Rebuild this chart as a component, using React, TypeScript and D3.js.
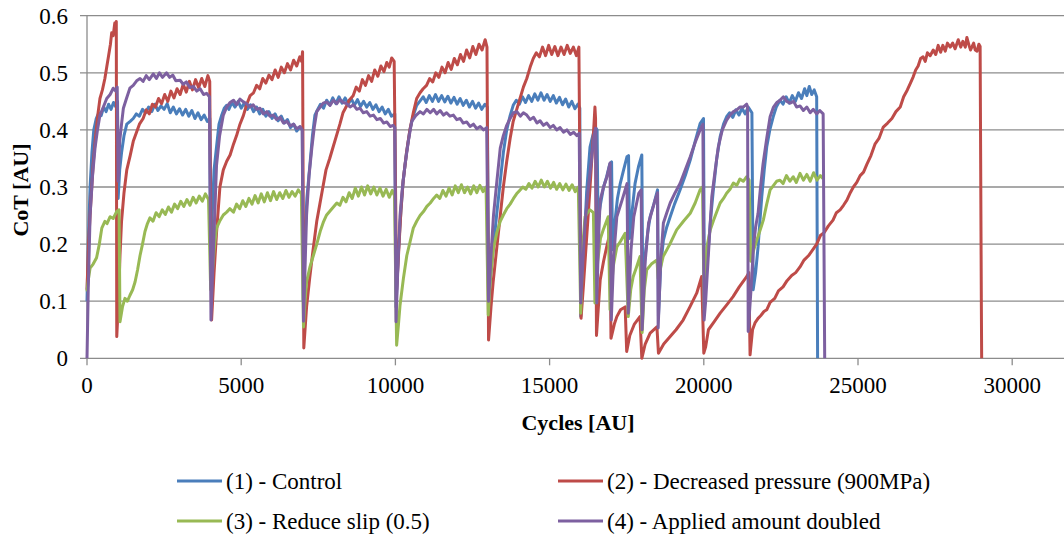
import React from 'react';
import * as d3 from 'd3';

type P = [number, number];

const xTicks = [0, 5000, 10000, 15000, 20000, 25000, 30000];
const yTicks = [0, 0.1, 0.2, 0.3, 0.4, 0.5, 0.6];
const xAxisTitle = 'Cycles [AU]';
const yAxisTitle = 'CoT [AU]';
const seriesNames = [
  '(1) - Control',
  '(2) - Decreased pressure (900MPa)',
  '(3) - Reduce slip (0.5)',
  '(4) - Applied amount doubled',
];

const control: P[] = [
  [0,.10],[40,.2],[100,.3],[160,.36],[220,.4],[300,.42],[380,.43],[460,.425],[540,.44],[620,.432],[700,.445],[780,.436],[860,.448],[940,.44],[990,.45],
  [1010,.28],[1060,.33],[1120,.36],[1200,.39],[1290,.41],[1400,.415],[1500,.42],[1600,.428],[1700,.424],[1800,.436],[1900,.43],[2000,.44],[2100,.432],[2200,.445],[2300,.434],[2400,.442],[2500,.436],[2600,.446],[2700,.43],[2800,.44],[2900,.428],[3000,.437],[3100,.426],[3200,.436],[3300,.424],[3400,.434],[3500,.42],[3600,.43],[3700,.418],[3800,.426],[3900,.415],[3980,.42],
  [4010,.15],[4060,.25],[4120,.33],[4200,.37],[4280,.41],[4370,.426],[4450,.438],[4530,.443],[4600,.436],[4700,.448],[4800,.44],[4900,.45],[5000,.438],[5100,.447],[5200,.436],[5300,.444],[5400,.432],[5500,.44],[5600,.428],[5700,.436],[5800,.424],[5900,.432],[6000,.42],[6100,.428],[6200,.416],[6300,.424],[6400,.412],[6500,.418],[6600,.404],[6700,.41],[6800,.398],[6900,.405],[6980,.40],
  [7010,.10],[7060,.2],[7130,.28],[7230,.34],[7310,.39],[7390,.426],[7480,.436],[7570,.445],[7670,.438],[7770,.452],[7870,.444],[7970,.456],[8070,.446],[8170,.458],[8270,.447],[8370,.456],[8470,.445],[8570,.455],[8670,.443],[8770,.453],[8870,.441],[8970,.45],[9070,.44],[9170,.448],[9270,.436],[9370,.444],[9470,.432],[9570,.44],[9670,.428],[9770,.436],[9870,.424],[9980,.428],
  [10020,.09],[10100,.19],[10170,.25],[10250,.31],[10360,.36],[10470,.40],[10580,.425],[10690,.443],[10790,.45],[10900,.458],[11000,.448],[11100,.46],[11200,.45],[11300,.462],[11400,.45],[11500,.46],[11600,.449],[11700,.459],[11800,.447],[11900,.457],[12000,.445],[12100,.455],[12200,.443],[12300,.452],[12400,.44],[12500,.45],[12600,.438],[12700,.447],[12800,.436],[12900,.445],[12980,.44],
  [13030,.10],[13100,.15],[13170,.19],[13280,.25],[13400,.31],[13500,.36],[13610,.40],[13720,.425],[13820,.443],[13920,.452],[14020,.445],[14120,.458],[14220,.448],[14320,.46],[14420,.45],[14520,.463],[14620,.452],[14720,.465],[14820,.452],[14920,.462],[15020,.45],[15120,.46],[15220,.447],[15320,.457],[15420,.444],[15520,.454],[15620,.44],[15720,.45],[15820,.437],[15920,.445],[15980,.438],
  [16010,.073],[16100,.18],[16200,.29],[16310,.37],[16400,.39],[16480,.405],[16540,.40],
  [16570,.24],[16650,.27],[16750,.30],[16850,.318],[16950,.34],[17010,.344],
  [17040,.19],[17120,.24],[17200,.28],[17290,.306],[17400,.33],[17510,.353],[17560,.355],
  [17590,.21],[17680,.26],[17770,.306],[17880,.335],[17990,.356],
  [18020,.12],[18100,.18],[18180,.22],[18260,.248],[18380,.27],[18500,.295],
  [18530,.073],[18600,.16],[18690,.207],[18800,.23],[18910,.248],[19050,.27],[19230,.295],[19400,.32],[19560,.347],[19720,.38],[19880,.411],[19990,.42],
  [20020,.11],[20080,.15],[20150,.195],[20230,.25],[20310,.295],[20420,.35],[20530,.388],[20640,.41],[20740,.423],[20840,.43],[20940,.422],[21040,.435],[21140,.426],[21240,.438],[21340,.428],[21440,.44],[21560,.43],
  [21600,.12],[21680,.15],[21760,.195],[21820,.24],[21880,.283],[21960,.33],[22040,.37],[22140,.40],[22250,.423],[22350,.44],[22470,.452],[22570,.445],[22670,.458],[22770,.447],[22870,.46],[22970,.45],[23070,.465],[23170,.455],[23270,.472],[23340,.46],[23420,.476],[23500,.462],[23580,.47],[23660,.458],
  [23690,0],
];

const pressure: P[] = [
  [0,.12],[50,.2],[120,.27],[200,.34],[280,.39],[360,.43],[420,.455],[500,.47],[580,.49],[640,.51],[700,.53],[760,.55],[800,.57],[850,.565],[900,.587],[930,.58],[950,.59],
  [965,.038],[1020,.1],[1070,.18],[1120,.24],[1200,.29],[1290,.33],[1400,.355],[1500,.38],[1600,.395],[1700,.41],[1820,.42],[1920,.435],[2020,.428],[2120,.445],[2220,.44],[2320,.455],[2420,.446],[2520,.462],[2620,.45],[2720,.468],[2820,.456],[2920,.472],[3020,.462],[3120,.48],[3220,.466],[3320,.485],[3420,.47],[3520,.488],[3620,.474],[3720,.49],[3820,.476],[3920,.495],[3980,.485],
  [4040,.067],[4120,.15],[4200,.22],[4310,.30],[4420,.33],[4530,.345],[4640,.356],[4750,.375],[4850,.39],[4960,.41],[5070,.425],[5180,.445],[5290,.46],[5400,.465],[5500,.478],[5600,.472],[5700,.49],[5800,.482],[5900,.496],[6000,.488],[6100,.505],[6200,.492],[6300,.51],[6400,.5],[6500,.516],[6600,.505],[6700,.522],[6800,.512],[6900,.528],[6960,.52],[6990,.537],
  [7030,.018],[7120,.09],[7220,.14],[7330,.19],[7450,.24],[7550,.27],[7650,.30],[7750,.33],[7870,.35],[7980,.37],[8090,.39],[8200,.41],[8300,.43],[8400,.44],[8500,.452],[8630,.46],[8730,.475],[8830,.468],[8930,.488],[9030,.478],[9130,.495],[9230,.485],[9330,.505],[9430,.494],[9530,.512],[9630,.502],[9720,.518],[9800,.51],[9880,.526],[9960,.52],
  [10040,.12],[10120,.2],[10180,.26],[10250,.31],[10360,.36],[10470,.40],[10580,.43],[10690,.455],[10800,.465],[10900,.472],[11010,.478],[11110,.49],[11210,.484],[11310,.5],[11410,.492],[11510,.51],[11610,.5],[11710,.518],[11810,.506],[11910,.525],[12010,.514],[12110,.532],[12210,.52],[12310,.54],[12410,.526],[12510,.546],[12610,.532],[12710,.55],[12810,.54],[12910,.558],[12970,.545],
  [13020,.032],[13100,.09],[13170,.134],[13280,.19],[13400,.25],[13500,.3],[13610,.345],[13720,.385],[13820,.415],[13930,.435],[14040,.455],[14150,.475],[14260,.49],[14370,.51],[14470,.525],[14570,.535],[14670,.528],[14770,.545],[14870,.53],[14970,.548],[15070,.532],[15170,.546],[15270,.53],[15370,.545],[15470,.532],[15570,.548],[15670,.534],[15770,.545],[15870,.53],[15950,.545],
  [16020,.07],[16100,.13],[16200,.21],[16300,.29],[16370,.35],[16440,.41],[16470,.44],[16490,.42],
  [16520,.04],[16640,.137],[16750,.17],[16850,.195],[16960,.22],
  [16990,.035],[17100,.06],[17180,.073],[17300,.085],[17450,.09],
  [17500,.012],[17600,.04],[17750,.06],[17930,.073],
  [17990,.0],[18100,.025],[18260,.044],[18480,.055],
  [18530,.009],[18700,.025],[18910,.038],[19100,.05],[19330,.067],[19550,.09],[19770,.114],[19930,.143],
  [20000,.009],[20060,.02],[20150,.05],[20350,.065],[20530,.079],[20750,.094],[20950,.108],[21150,.125],[21390,.143],[21460,.15],
  [21500,.006],[21580,.05],[21660,.062],[21760,.07],[21850,.075],[21950,.082],[22040,.085],[22150,.098],[22300,.105],[22420,.118],[22570,.125],[22700,.136],[22850,.145],[22980,.15],[23120,.16],[23250,.172],[23400,.18],[23530,.19],[23660,.20],[23780,.215],[23900,.22],[24040,.232],[24190,.242],[24300,.255],[24420,.26],[24530,.268],[24640,.277],[24750,.29],[24850,.30],[24960,.308],[25070,.32],[25180,.326],[25290,.34],[25420,.355],[25550,.375],[25680,.385],[25820,.405],[25960,.412],[26100,.42],[26230,.432],[26370,.44],[26480,.458],[26600,.47],[26700,.482],[26790,.493],[26870,.505],[26950,.512],[27030,.525],[27110,.528],[27180,.52],[27250,.535],[27340,.53],[27440,.54],[27520,.532],[27600,.548],[27680,.536],[27750,.548],[27830,.538],[27900,.552],[27990,.545],[28070,.552],[28150,.542],[28250,.558],[28330,.545],[28400,.555],[28480,.545],[28530,.562],[28600,.548],[28650,.54],[28750,.552],[28800,.54],[28860,.538],[28920,.55],[28960,.546],
  [29000,.09],[29010,0],
];

const slip: P[] = [
  [0,.117],[50,.14],[100,.158],[200,.165],[310,.176],[400,.2],[480,.228],[580,.24],[650,.236],[750,.248],[850,.245],[960,.257],[1040,.26],
  [1070,.064],[1150,.09],[1230,.105],[1310,.1],[1390,.11],[1480,.12],[1560,.134],[1640,.155],[1720,.18],[1800,.2],[1880,.222],[1960,.236],[2040,.246],[2140,.24],[2240,.255],[2340,.248],[2440,.26],[2540,.252],[2640,.265],[2740,.256],[2840,.27],[2940,.262],[3040,.275],[3140,.266],[3240,.278],[3340,.268],[3440,.282],[3540,.272],[3640,.284],[3740,.275],[3840,.288],[3940,.278],
  [4010,.12],[4080,.16],[4140,.2],[4200,.228],[4300,.24],[4420,.251],[4530,.256],[4630,.262],[4750,.256],[4850,.27],[4950,.262],[5050,.276],[5150,.266],[5250,.28],[5350,.27],[5450,.285],[5550,.272],[5650,.288],[5750,.274],[5850,.29],[5950,.276],[6050,.292],[6150,.278],[6250,.29],[6350,.28],[6450,.294],[6550,.282],[6650,.292],[6750,.284],[6850,.295],[6950,.288],
  [7020,.055],[7070,.1],[7120,.134],[7230,.16],[7340,.18],[7450,.2],[7560,.222],[7660,.238],[7770,.251],[7880,.258],[7990,.265],[8100,.272],[8200,.268],[8300,.282],[8400,.274],[8500,.29],[8600,.28],[8700,.298],[8800,.284],[8900,.3],[9000,.286],[9100,.302],[9200,.288],[9300,.3],[9400,.286],[9500,.298],[9600,.284],[9700,.296],[9800,.282],[9900,.294],[9970,.285],
  [10040,.023],[10100,.06],[10150,.093],[10260,.14],[10370,.18],[10480,.205],[10580,.228],[10690,.24],[10800,.25],[10910,.257],[11020,.266],[11130,.272],[11240,.28],[11340,.286],[11440,.28],[11540,.294],[11640,.284],[11740,.298],[11840,.286],[11940,.302],[12040,.29],[12140,.304],[12240,.29],[12340,.3],[12440,.288],[12540,.302],[12640,.29],[12740,.303],[12840,.292],[12940,.3],
  [13010,.076],[13080,.14],[13180,.193],[13290,.22],[13400,.24],[13500,.251],[13610,.262],[13720,.27],[13830,.28],[13930,.288],[14030,.294],[14130,.3],[14230,.296],[14330,.306],[14430,.298],[14530,.31],[14630,.3],[14730,.312],[14830,.3],[14930,.31],[15030,.298],[15130,.308],[15230,.296],[15330,.306],[15430,.295],[15530,.305],[15630,.294],[15730,.304],[15830,.292],[15930,.3],
  [16010,.079],[16080,.2],[16150,.248],[16230,.255],[16310,.26],[16420,.255],
  [16470,.097],[16560,.17],[16650,.21],[16740,.225],[16900,.248],
  [16960,.085],[17060,.16],[17180,.195],[17300,.205],[17450,.219],
  [17550,.073],[17630,.12],[17710,.143],[17820,.16],[17930,.178],
  [18000,.045],[18070,.12],[18150,.155],[18300,.165],[18480,.172],
  [18520,.14],[18680,.178],[18900,.2],[19120,.225],[19340,.24],[19560,.254],[19720,.272],[19880,.295],[19960,.3],
  [20010,.085],[20060,.15],[20100,.195],[20210,.225],[20320,.242],[20430,.258],[20530,.272],[20640,.28],[20740,.289],[20850,.296],[20960,.307],[21070,.303],[21170,.314],[21280,.31],[21390,.318],[21470,.312],
  [21520,.17],[21620,.19],[21720,.207],[21830,.225],[21930,.242],[22040,.27],[22150,.295],[22250,.302],[22360,.31],[22470,.312],[22570,.306],[22680,.32],[22790,.31],[22900,.318],[23000,.308],[23120,.324],[23230,.312],[23340,.322],[23450,.31],[23560,.325],[23670,.312],[23780,.32],[23860,.315],
];

const doubled: P[] = [
  [0,0],[40,.12],[100,.25],[180,.32],[260,.368],[340,.4],[420,.426],[530,.44],[640,.455],[750,.462],[850,.473],[930,.468],[980,.475],
  [1010,.31],[1060,.38],[1120,.41],[1180,.438],[1280,.455],[1390,.473],[1500,.478],[1610,.486],[1720,.49],[1820,.485],[1920,.495],[2020,.488],[2150,.498],[2250,.49],[2350,.5],[2450,.492],[2580,.5],[2680,.492],[2780,.496],[2880,.486],[3020,.487],[3120,.48],[3220,.484],[3340,.474],[3450,.476],[3560,.468],[3670,.472],[3780,.462],[3880,.464],[3970,.458],
  [4020,.067],[4100,.19],[4200,.338],[4300,.39],[4420,.426],[4530,.44],[4640,.448],[4750,.452],[4850,.444],[4960,.454],[5070,.449],[5170,.446],[5280,.44],[5390,.444],[5500,.436],[5610,.438],[5720,.428],[5830,.432],[5930,.424],[6040,.426],[6150,.418],[6260,.422],[6370,.412],[6480,.415],[6590,.407],[6700,.41],[6800,.402],[6910,.406],[6980,.4],
  [7020,.065],[7120,.251],[7200,.32],[7290,.368],[7370,.405],[7450,.432],[7560,.44],[7660,.447],[7770,.449],[7880,.443],[7990,.452],[8100,.446],[8200,.453],[8310,.448],[8420,.446],[8530,.44],[8640,.444],[8750,.436],[8850,.438],[8960,.43],[9070,.432],[9180,.424],[9290,.426],[9400,.418],[9510,.42],[9620,.412],[9720,.414],[9830,.406],[9930,.408],[9980,.404],
  [10020,.064],[10080,.16],[10150,.25],[10230,.3],[10310,.338],[10420,.38],[10530,.415],[10660,.425],[10800,.432],[10910,.428],[11020,.436],[11130,.43],[11240,.436],[11340,.428],[11450,.434],[11560,.426],[11660,.43],[11770,.424],[11880,.426],[11990,.418],[12100,.42],[12200,.412],[12310,.414],[12420,.406],[12530,.41],[12640,.402],[12750,.406],[12860,.4],[12960,.404],
  [13020,.1],[13100,.18],[13180,.25],[13290,.31],[13400,.368],[13500,.39],[13610,.408],[13720,.42],[13830,.43],[13940,.432],[14050,.424],[14150,.43],[14260,.426],[14370,.418],[14480,.422],[14590,.412],[14690,.416],[14800,.408],[14910,.412],[15020,.404],[15120,.408],[15230,.4],[15340,.404],[15450,.396],[15560,.4],[15670,.392],[15780,.396],[15880,.39],[15960,.394],
  [16010,.097],[16080,.17],[16150,.237],[16260,.3],[16370,.353],[16440,.39],[16490,.403],
  [16530,.097],[16580,.2],[16640,.277],[16750,.3],[16860,.318],[16960,.342],
  [17000,.067],[17080,.18],[17180,.248],[17350,.277],[17510,.306],
  [17550,.079],[17640,.19],[17730,.248],[17890,.289],[17970,.295],
  [18000,.05],[18100,.17],[18210,.237],[18420,.277],[18500,.29],
  [18520,.053],[18600,.17],[18690,.237],[18800,.255],[18910,.272],[19070,.29],[19230,.306],[19400,.33],[19560,.353],[19720,.378],[19880,.40],[19970,.41],
  [20010,.067],[20060,.1],[20100,.137],[20180,.21],[20260,.283],[20370,.33],[20470,.37],[20600,.4],[20740,.417],[20850,.426],[20960,.432],[21070,.435],[21170,.44],[21280,.44],[21390,.445],[21420,.44],
  [21440,.047],[21530,.12],[21610,.195],[21680,.23],[21760,.254],[21840,.3],[21920,.34],[22040,.385],[22150,.423],[22260,.44],[22370,.448],[22470,.452],[22580,.458],[22690,.45],[22800,.447],[22910,.45],[23010,.44],[23120,.442],[23230,.434],[23340,.44],[23450,.43],[23550,.436],[23660,.428],[23760,.434],[23870,.428],
  [23920,0],
];

const seriesData = [control, pressure, slip, doubled];
const seriesColors = ['#4A7EBB', '#BE4B48', '#98B954', '#7D60A0'];

const W = 1064;
const H = 535;
const FONT = "'Liberation Serif', 'Times New Roman', 'DejaVu Serif', serif";

export default function App() {
  const x = d3.scaleLinear().domain([0, 35000]).range([87, 1166.4]);
  const y = d3.scaleLinear().domain([0, 0.6]).range([358.3, 15.7]);
  const line = d3.line<P>().x(d => x(d[0])).y(d => y(d[1]));
  const gridColor = '#8C8C8C';
  const legendPos = [
    { lx: 177, ty: 481 },
    { lx: 558, ty: 481 },
    { lx: 177, ty: 521 },
    { lx: 558, ty: 521 },
  ];
  const ts = { fontFamily: FONT };
  return (
    <svg width={W} height={H} style={{ position: 'absolute', left: 0, top: 0, background: '#fff', fontFamily: FONT }}>
      <rect x={0} y={0} width={W} height={H} fill="#fff" />
      {yTicks.map(t => (
        <line key={'g' + t} x1={80} x2={W} y1={y(t)} y2={y(t)} stroke={gridColor} strokeWidth={1.3} />
      ))}
      <line x1={x(0)} x2={x(0)} y1={y(0.6)} y2={y(0)} stroke={gridColor} strokeWidth={1.3} />
      {[...xTicks, 35000].map(t => (
        <line key={'xt' + t} x1={x(t)} x2={x(t)} y1={y(0)} y2={y(0) + 7} stroke={gridColor} strokeWidth={1.3} />
      ))}
      {yTicks.map(t => (
        <text key={'yl' + t} x={68} y={y(t)} dy="0.35em" textAnchor="end" fontSize={23} fill="#000" style={ts}>
          {String(t)}
        </text>
      ))}
      {xTicks.map(t => (
        <text key={'xl' + t} x={x(t)} y={393} textAnchor="middle" fontSize={23} fill="#000" style={ts}>
          {String(t)}
        </text>
      ))}
      <text x={578} y={430} textAnchor="middle" fontSize={22} fontWeight="bold" fill="#000" style={ts}>{xAxisTitle}</text>
      <text transform={`translate(28,190) rotate(-90)`} textAnchor="middle" fontSize={22} fontWeight="bold" fill="#000" style={ts}>{yAxisTitle}</text>
      {seriesData.map((s, i) => (
        <path key={'s' + i} d={line(s) || ''} fill="none" stroke={seriesColors[i]} strokeWidth={3} strokeLinejoin="round" />
      ))}
      {seriesNames.map((n, i) => (
        <g key={'lg' + i}>
          <line x1={legendPos[i].lx} x2={legendPos[i].lx + 45} y1={legendPos[i].ty} y2={legendPos[i].ty} stroke={seriesColors[i]} strokeWidth={3} />
          <text x={legendPos[i].lx + 49} y={legendPos[i].ty + 8} fontSize={23} fill="#000" style={ts}>{n}</text>
        </g>
      ))}
    </svg>
  );
}
